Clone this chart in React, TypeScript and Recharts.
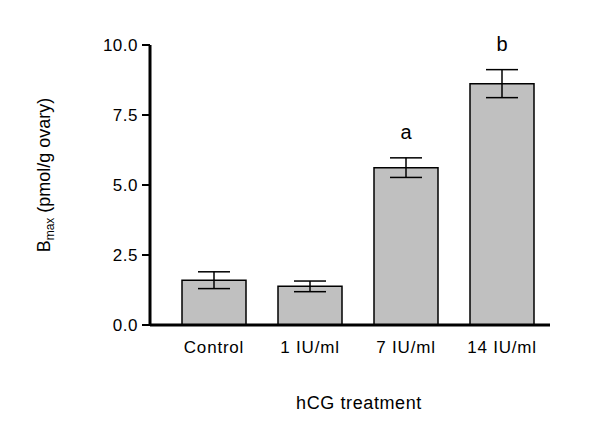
import React from 'react';
import {
  ComposedChart,
  Bar,
  Line,
  XAxis,
  YAxis,
  ErrorBar,
  LabelList,
  Label,
} from 'recharts';

const treatments = ['Control', '1 IU/ml', '7 IU/ml', '14 IU/ml'];
const bmaxMeans = [1.6, 1.38, 5.62, 8.62];
const bmaxSem = [0.3, 0.19, 0.35, 0.5];
const sigLetters = ['', '', 'a', 'b'];
const yTicks = [0, 2.5, 5, 7.5, 10];

const data = treatments.map((name, i) => ({
  name,
  mean: bmaxMeans[i],
  sem: bmaxSem[i],
  upper: bmaxMeans[i] + bmaxSem[i],
  sig: sigLetters[i],
}));

const FONT = '"Liberation Sans", Arial, Helvetica, sans-serif';

function YTitle() {
  return (
    <text
      x={0}
      y={0}
      transform="translate(50,175) rotate(-90)"
      textAnchor="middle"
      fontFamily={FONT}
      fontSize={18}
      fill="#000"
    >
      B
      <tspan fontSize={12} dy={4}>max</tspan>
      <tspan dy={-4}> (pmol/g ovary)</tspan>
    </text>
  );
}

function XTitle() {
  return (
    <text x={359} y={409} textAnchor="middle" fontFamily={FONT} fontSize={18} letterSpacing={0.6} fill="#000">
      hCG treatment
    </text>
  );
}

export default function App() {
  return (
    <div style={{ position: 'absolute', left: 0, top: 0, background: '#fff' }}>
      <ComposedChart
        width={600}
        height={446}
        data={data}
        margin={{ top: 45, right: 50, bottom: 81, left: 80 }}
      >
        <XAxis
          dataKey="name"
          axisLine={{ stroke: '#000', strokeWidth: 3 }}
          tickLine={false}
          tickMargin={10}
          padding={{ left: 16, right: 0 }}
          height={40}
          tick={{ fill: '#000', fontSize: 17, fontFamily: FONT, letterSpacing: 0.8 }}
        >
          <Label content={() => <XTitle />} />
        </XAxis>
        <YAxis
          domain={[0, 10]}
          ticks={yTicks}
          width={70}
          axisLine={{ stroke: '#000', strokeWidth: 3 }}
          tickLine={{ stroke: '#000', strokeWidth: 2 }}
          tickSize={8}
          tickMargin={4}
          tickFormatter={(v: number) => v.toFixed(1)}
          tick={{ fill: '#000', fontSize: 17, fontFamily: FONT, letterSpacing: 0.5 }}
        >
          <Label content={() => <YTitle />} />
        </YAxis>
        <Bar
          dataKey="mean"
          fill="#c0c0c0"
          stroke="#000"
          strokeWidth={1.5}
          barSize={64}
          isAnimationActive={false}
        >
          <ErrorBar dataKey="sem" width={16} stroke="#000" strokeWidth={1.5} direction="y" />
        </Bar>
        <Line
          dataKey="upper"
          stroke="none"
          dot={false}
          activeDot={false}
          isAnimationActive={false}
        >
          <LabelList
            dataKey="sig"
            position="top"
            offset={19}
            style={{ fill: '#000', fontSize: 20, fontFamily: FONT }}
          />
        </Line>
      </ComposedChart>
    </div>
  );
}
